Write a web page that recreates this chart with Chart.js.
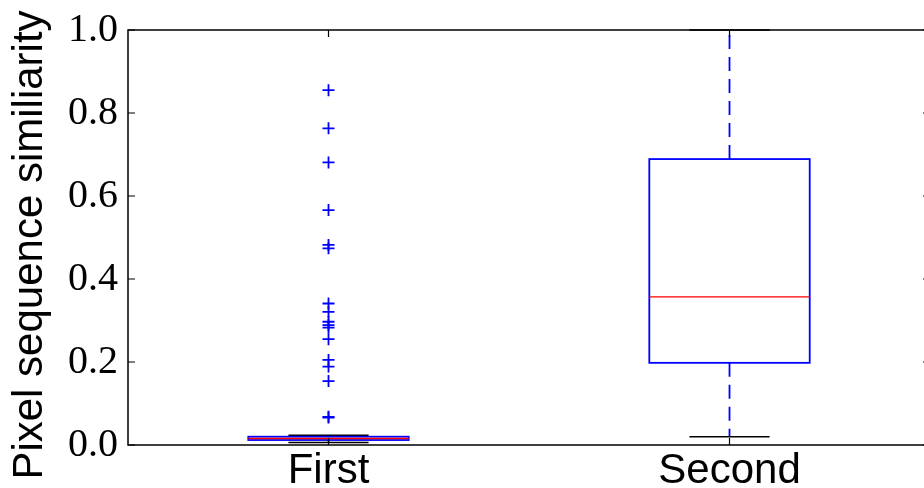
<!DOCTYPE html>
<html>
<head>
<meta charset="utf-8">
<script src="https://cdn.jsdelivr.net/npm/chart.js@4.4.1/dist/chart.umd.min.js"></script>
<style>
  html, body { margin: 0; padding: 0; background: #fff; overflow: hidden; }
  #box { display: block; }
</style>
</head>
<body>
<canvas id="box" width="924" height="488"></canvas>
<script>
// Box plot stats, one entry per group
const categories = ['First', 'Second'];
const whiskerLow = [0.006, 0.02];
const q1 = [0.012, 0.198];
const median = [0.0157, 0.357];
const q3 = [0.020, 0.689];
const whiskerHigh = [0.0233, 1.0];

// Fliers for the first group (the second has none)
const outliersFirst = [0.855, 0.763, 0.681, 0.566, 0.482, 0.474, 0.341, 0.321,
    0.297, 0.289, 0.283, 0.255, 0.205, 0.189, 0.154, 0.068, 0.066];

const yTicks = [0, 0.2, 0.4, 0.6, 0.8, 1.0];

// Axes frame runs 0.5..2.5; the canvas cuts it off slightly before the right spine
const X_FRAME_MAX = 2.5;
const X_VISIBLE_MAX = 2.485;

const BLUE = '#0000ff';
const RED = '#ff0000';

function noScalePadding(scale) {
    scale.paddingTop = 0;
    scale.paddingBottom = 0;
    scale.paddingLeft = 0;
    scale.paddingRight = 0;
}

// Boxes, medians, whiskers and caps drawn through the chart scales
const boxPlugin = {
    id: 'boxes',
    beforeDatasetsDraw: function(chart) {
        const ctx = chart.ctx;
        const xs = chart.scales.x;
        const ys = chart.scales.y;
        const half = 0.2, capHalf = 0.1;
        ctx.save();
        categories.forEach(function(c, i) {
            const pos = i + 1;
            const xl = xs.getPixelForValue(pos - half);
            const xr = xs.getPixelForValue(pos + half);
            const xc = xs.getPixelForValue(pos);
            const cl = xs.getPixelForValue(pos - capHalf);
            const cr = xs.getPixelForValue(pos + capHalf);
            const yq1 = ys.getPixelForValue(q1[i]);
            const yq3 = ys.getPixelForValue(q3[i]);
            const ymed = ys.getPixelForValue(median[i]);
            const ylo = ys.getPixelForValue(whiskerLow[i]);
            const yhi = ys.getPixelForValue(whiskerHigh[i]);

            // whiskers
            ctx.strokeStyle = BLUE;
            ctx.lineWidth = 1.8;
            ctx.setLineDash([14, 8]);
            ctx.beginPath();
            ctx.moveTo(xc, yq3); ctx.lineTo(xc, yhi);
            ctx.stroke();
            ctx.beginPath();
            ctx.moveTo(xc, yq1); ctx.lineTo(xc, ylo);
            ctx.stroke();
            ctx.setLineDash([]);

            // caps
            ctx.strokeStyle = '#000';
            ctx.lineWidth = 1.6;
            ctx.beginPath();
            ctx.moveTo(cl, yhi); ctx.lineTo(cr, yhi);
            ctx.moveTo(cl, ylo); ctx.lineTo(cr, ylo);
            ctx.stroke();

            // box
            ctx.strokeStyle = BLUE;
            ctx.lineWidth = 1.8;
            ctx.strokeRect(xl, yq3, xr - xl, yq1 - yq3);

            // median
            ctx.strokeStyle = RED;
            ctx.lineWidth = 1.4;
            ctx.beginPath();
            ctx.moveTo(xl, ymed); ctx.lineTo(xr, ymed);
            ctx.stroke();
        });
        ctx.restore();
    },
    afterDraw: function(chart) {
        const ctx = chart.ctx;
        const a = chart.chartArea;
        const xs = chart.scales.x;
        const ys = chart.scales.y;
        const right = xs.getPixelForValue(X_FRAME_MAX);
        const tl = 7;
        ctx.save();
        ctx.strokeStyle = '#000';
        ctx.lineWidth = 1.5;
        ctx.strokeRect(a.left, a.top, right - a.left, a.bottom - a.top);

        // inward ticks on all four sides
        ctx.lineWidth = 1.2;
        ctx.beginPath();
        yTicks.forEach(function(v) {
            const y = ys.getPixelForValue(v);
            ctx.moveTo(a.left, y); ctx.lineTo(a.left + tl, y);
            ctx.moveTo(right, y); ctx.lineTo(right - tl, y);
        });
        categories.forEach(function(c, i) {
            const x = xs.getPixelForValue(i + 1);
            ctx.moveTo(x, a.bottom); ctx.lineTo(x, a.bottom - tl);
            ctx.moveTo(x, a.top); ctx.lineTo(x, a.top + tl);
        });
        ctx.stroke();

        // y axis title
        ctx.fillStyle = '#000';
        ctx.font = '42px "Liberation Sans", Arial, sans-serif';
        ctx.textAlign = 'center';
        ctx.textBaseline = 'alphabetic';
        ctx.translate(42, 245);
        ctx.rotate(-Math.PI / 2);
        ctx.fillText('Pixel sequence similiarity', 0, 0);
        ctx.restore();
    }
};

new Chart(document.getElementById('box'), {
    type: 'scatter',
    data: {
        datasets: [{
            label: 'outliers',
            data: outliersFirst.map(function(v) { return { x: 1, y: v }; }),
            pointStyle: 'cross',
            pointRadius: 6,
            pointHoverRadius: 6,
            borderColor: BLUE,
            backgroundColor: BLUE,
            borderWidth: 1.8
        }]
    },
    options: {
        responsive: false,
        animation: false,
        events: [],
        layout: {
            autoPadding: false,
            padding: { top: 30, right: 0, left: 0, bottom: 0 }
        },
        plugins: {
            legend: { display: false },
            tooltip: { enabled: false }
        },
        scales: {
            x: {
                type: 'linear',
                min: 0.5,
                max: X_VISIBLE_MAX,
                grid: { display: false, drawTicks: false },
                border: { display: false },
                afterBuildTicks: function(scale) {
                    scale.ticks = categories.map(function(c, i) { return { value: i + 1 }; });
                },
                afterFit: function(scale) {
                    scale.height = 43;
                    noScalePadding(scale);
                },
                ticks: {
                    padding: 1,
                    color: '#000',
                    maxRotation: 0,
                    font: { family: '"Liberation Sans", Arial, sans-serif', size: 42 },
                    callback: function(v) { return categories[v - 1]; }
                }
            },
            y: {
                min: 0,
                max: 1,
                grid: { display: false, drawTicks: false },
                border: { display: false },
                afterBuildTicks: function(scale) {
                    scale.ticks = yTicks.map(function(v) { return { value: v }; });
                },
                afterFit: function(scale) {
                    scale.width = 128;
                    noScalePadding(scale);
                },
                ticks: {
                    padding: 10,
                    color: '#000',
                    font: { family: '"Liberation Serif", "DejaVu Serif", serif', size: 40 },
                    callback: function(v) { return v.toFixed(1); }
                }
            }
        }
    },
    plugins: [boxPlugin]
});
</script>
</body>
</html>
